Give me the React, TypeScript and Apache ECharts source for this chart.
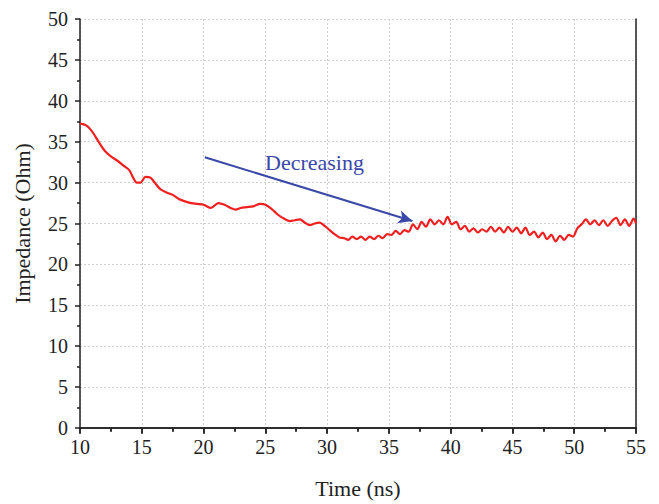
import React, { useEffect, useRef } from "react";
import * as echarts from "echarts";

const times: number[] = [
  10.0, 10.5, 11.0, 11.5, 12.0, 12.5, 13.0, 13.5, 14.0, 14.3, 14.6, 14.9, 15.3, 15.7, 16.1, 16.5, 17.0, 17.5, 18.0, 18.5,
  19.0, 19.5, 20.0, 20.6, 21.2, 21.7, 22.2, 22.6, 23.0, 23.5, 24.0, 24.6, 25.0, 25.5, 26.0, 26.5, 27.0, 27.4, 27.8, 28.2,
  28.6, 29.0, 29.4, 29.8, 30.2, 30.6, 31.0, 31.4,
  31.7, 32.05, 32.4, 32.75, 33.1, 33.45, 33.8, 34.15, 34.5, 34.85, 35.2, 35.55, 35.9, 36.25, 36.6, 36.95, 37.3, 37.65,
  38.0, 38.35, 38.7, 39.05, 39.4, 39.75, 40.1, 40.45, 40.8, 41.15, 41.5, 41.85, 42.2, 42.55, 42.9, 43.25, 43.6, 43.95,
  44.3, 44.65, 45.0, 45.35, 45.7, 46.05, 46.4, 46.75, 47.1, 47.45, 47.8, 48.15, 48.5, 48.85, 49.2, 49.55, 49.9, 50.25,
  50.6, 50.95, 51.3, 51.65, 52.0, 52.35, 52.7, 53.05, 53.4, 53.75, 54.1, 54.45, 54.8, 55.0,
];

const impedance: number[] = [
  37.2, 37.0, 36.2, 35.0, 33.9, 33.2, 32.7, 32.1, 31.5, 30.6, 30.0, 30.0, 30.7, 30.6, 29.9, 29.2, 28.8, 28.5, 28.0, 27.7,
  27.5, 27.4, 27.3, 26.9, 27.5, 27.3, 26.9, 26.7, 26.9, 27.0, 27.1, 27.4, 27.3, 26.8, 26.1, 25.6, 25.3, 25.4, 25.5, 25.1,
  24.8, 25.0, 25.1, 24.7, 24.2, 23.7, 23.3, 23.2,
  23.0, 23.4, 23.1, 23.4, 23.0, 23.4, 23.1, 23.5, 23.2, 23.7, 23.6, 24.1, 23.7, 24.2, 24.0, 24.9, 24.3, 25.2,
  24.6, 25.5, 24.9, 25.4, 24.9, 25.8, 24.9, 25.2, 24.3, 24.7, 24.0, 24.4, 23.9, 24.3, 24.0, 24.6, 24.0, 24.5,
  23.9, 24.6, 24.0, 24.5, 23.8, 24.5, 23.6, 24.0, 23.3, 23.9, 23.1, 23.6, 22.8, 23.5, 23.0, 23.6, 23.4, 24.4,
  24.9, 25.5, 24.9, 25.4, 24.8, 25.4, 24.7, 25.3, 25.7, 24.8, 25.5, 24.7, 25.6, 25.0,
];

const arrowStart: [number, number] = [20.1, 33.1];
const arrowEnd: [number, number] = [36.9, 25.3];
const annotationText = "Decreasing";
const xTitle = "Time (ns)";
const yTitle = "Impedance (Ohm)";

const FONT = "Liberation Serif";

export default function App() {
  const ref = useRef<HTMLDivElement>(null);
  useEffect(() => {
    if (!ref.current) return;
    const chart = echarts.init(ref.current, null, { renderer: "svg" });
    const data = times.map((t, i) => [t, impedance[i]]);
    const axisLine = { show: true, lineStyle: { color: "#222", width: 1.5 } };
    chart.setOption({
      animation: false,
      backgroundColor: "#fff",
      grid: { left: 80, right: 23, top: 19, bottom: 72 },
      xAxis: [
        {
          type: "value",
          min: 10,
          max: 55,
          interval: 5,
          position: "bottom",
          name: xTitle,
          nameLocation: "middle",
          nameGap: 49,
          nameTextStyle: { fontFamily: FONT, fontSize: 22, color: "#222" },
          axisLine,
          axisTick: { show: true, inside: false, length: 5, lineStyle: { color: "#222", width: 1.5 } },
          minorTick: { show: true, splitNumber: 2, length: 3, lineStyle: { color: "#222", width: 1.5 } },
          axisLabel: { fontFamily: FONT, fontSize: 20, color: "#222", margin: 9 },
          splitLine: { show: true, lineStyle: { color: "#d0d0d0", type: [2, 2], width: 1 } },
        },
        {
          type: "value",
          min: 10,
          max: 55,
          interval: 5,
          position: "top",
          axisLine,
          axisTick: { show: true, inside: true, length: 6, lineStyle: { color: "#222", width: 1.5 } },
          minorTick: { show: true, splitNumber: 2, length: 4, lineStyle: { color: "#222", width: 1.5 } },
          axisLabel: { show: false },
          splitLine: { show: false },
        },
      ],
      yAxis: [
        {
          type: "value",
          min: 0,
          max: 50,
          interval: 5,
          position: "left",
          name: yTitle,
          nameLocation: "middle",
          nameGap: 47,
          nameTextStyle: { fontFamily: FONT, fontSize: 22, color: "#222" },
          axisLine,
          axisTick: { show: true, inside: false, length: 5, lineStyle: { color: "#222", width: 1.5 } },
          minorTick: { show: true, splitNumber: 2, length: 3, lineStyle: { color: "#222", width: 1.5 } },
          axisLabel: { fontFamily: FONT, fontSize: 20, color: "#222", margin: 12 },
          splitLine: { show: true, lineStyle: { color: "#d0d0d0", type: [2, 2], width: 1 } },
        },
        {
          type: "value",
          min: 0,
          max: 50,
          interval: 5,
          position: "right",
          axisLine,
          axisTick: { show: false },
          axisLabel: { show: false },
          splitLine: { show: false },
        },
      ],
      series: [
        {
          type: "line",
          data,
          smooth: 0.3,
          showSymbol: false,
          lineStyle: { color: "#f02020", width: 2.2 },
          markLine: {
            silent: true,
            symbol: ["none", "arrow"],
            symbolSize: [10, 14],
            label: { show: false },
            lineStyle: { color: "#3a48a8", width: 2, type: "solid" },
            data: [[{ coord: arrowStart }, { coord: arrowEnd }]],
          },
        },
      ],
      graphic: [
        {
          type: "text",
          left: 265,
          top: 151,
          style: { text: annotationText, fontFamily: FONT, fontSize: 22, fill: "#3a48a8" },
        },
      ],
    });
    return () => chart.dispose();
  }, []);
  return <div ref={ref} style={{ width: 659, height: 504, position: "absolute", left: 0, top: 0 }} />;
}
